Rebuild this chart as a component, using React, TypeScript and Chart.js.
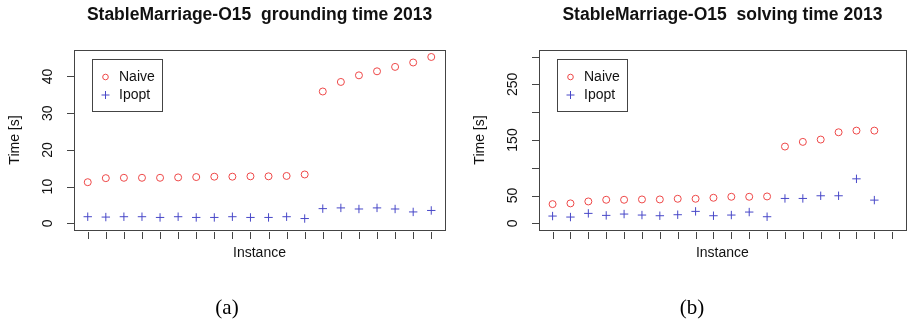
import React, { useEffect, useRef } from "react";
import { Chart, registerables } from "chart.js";

Chart.register(...registerables);

const instancesA = [1, 2, 3, 4, 5, 6, 7, 8, 9, 10, 11, 12, 13, 14, 15, 16, 17, 18, 19, 20];
const groundingNaive = [11.2, 12.3, 12.4, 12.4, 12.4, 12.5, 12.6, 12.7, 12.7, 12.8, 12.8, 12.9, 13.3, 35.9, 38.5, 40.3, 41.4, 42.6, 43.8, 45.3];
const groundingIpopt = [1.8, 1.7, 1.8, 1.8, 1.6, 1.8, 1.6, 1.6, 1.8, 1.6, 1.6, 1.8, 1.3, 4.0, 4.2, 3.9, 4.2, 3.9, 3.1, 3.5];

const instancesB = [1, 2, 3, 4, 5, 6, 7, 8, 9, 10, 11, 12, 13, 14, 15, 16, 17, 18, 19];
const solvingNaive = [34.6, 35.9, 39.4, 42.4, 42.4, 43.0, 43.0, 44.2, 44.2, 46.0, 47.8, 47.8, 48.4, 138.2, 146.6, 150.8, 163.9, 166.9, 166.9];
const solvingIpopt = [13.1, 11.3, 17.9, 14.3, 16.7, 14.9, 13.7, 15.5, 21.5, 13.7, 14.9, 20.3, 11.9, 44.8, 44.8, 49.6, 49.6, 80.1, 41.8];

const xTicks = [1, 2, 3, 4, 5, 6, 7, 8, 9, 10, 11, 12, 13, 14, 15, 16, 17, 18, 19, 20];
const yTicksA = [0, 10, 20, 30, 40];
const yTickLabelsA = ["0", "10", "20", "30", "40"];
const yTicksB = [0, 50, 100, 150, 200, 250, 300];
const yTickLabelsB = ["0", "50", "", "150", "", "250", ""];

const seriesNames = ["Naive", "Ipopt"];
const titleA = "StableMarriage-O15  grounding time 2013";
const titleB = "StableMarriage-O15  solving time 2013";
const xTitle = "Instance";
const yTitle = "Time [s]";

const RED = "rgb(238,72,72)";
const BLUE = "rgb(72,72,200)";
const SANS = '"Liberation Sans", Arial, sans-serif';

type PanelProps = {
  xs: number[];
  naive: number[];
  ipopt: number[];
  yMin: number;
  yMax: number;
  yTicks: number[];
  yTickLabels: string[];
  title: string;
  width: number;
  padLeft: number;
  padRight: number;
};

function makeDecor(p: PanelProps) {
  return {
    id: "rdecor",
    afterDraw(chart: any) {
      const ctx = chart.ctx as CanvasRenderingContext2D;
      const a = chart.chartArea;
      const xs = chart.scales.x;
      const ys = chart.scales.y;
      ctx.save();
      // box
      ctx.strokeStyle = "#444";
      ctx.lineWidth = 1;
      ctx.strokeRect(Math.round(a.left) + 0.5, Math.round(a.top) + 0.5, Math.round(a.right - a.left), Math.round(a.bottom - a.top));
      // x ticks
      ctx.beginPath();
      for (const t of xTicks) {
        const px = Math.round(xs.getPixelForValue(t)) + 0.5;
        ctx.moveTo(px, a.bottom + 2);
        ctx.lineTo(px, a.bottom + 9);
      }
      ctx.stroke();
      // y ticks
      ctx.beginPath();
      for (const t of p.yTicks) {
        const py = Math.round(ys.getPixelForValue(t)) + 0.5;
        ctx.moveTo(a.left - 7, py);
        ctx.lineTo(a.left, py);
      }
      ctx.stroke();
      // y tick labels (rotated)
      ctx.fillStyle = "#111";
      ctx.font = `14px ${SANS}`;
      ctx.textAlign = "center";
      ctx.textBaseline = "middle";
      p.yTicks.forEach((t, i) => {
        const lbl = p.yTickLabels[i];
        if (!lbl) return;
        const py = ys.getPixelForValue(t);
        ctx.save();
        ctx.translate(a.left - 26, py);
        ctx.rotate(-Math.PI / 2);
        ctx.fillText(lbl, 0, 0);
        ctx.restore();
      });
      // axis titles
      const cx = (a.left + a.right) / 2;
      ctx.fillText(xTitle, cx, a.bottom + 23);
      ctx.save();
      ctx.translate(p.padLeft - 59, (a.top + a.bottom) / 2);
      ctx.rotate(-Math.PI / 2);
      ctx.fillText(yTitle, 0, 0);
      ctx.restore();
      // title
      ctx.font = `bold 17.5px ${SANS}`;
      ctx.fillText(p.title, cx, 15);
      // legend
      const lx = a.left + 18;
      const ly = a.top + 9;
      ctx.strokeStyle = "#444";
      ctx.strokeRect(Math.round(lx) + 0.5, Math.round(ly) + 0.5, 70, 52);
      ctx.font = `14px ${SANS}`;
      ctx.textAlign = "left";
      ctx.fillStyle = "#111";
      ctx.fillText(seriesNames[0], lx + 27, ly + 18);
      ctx.fillText(seriesNames[1], lx + 27, ly + 36);
      ctx.lineWidth = 1;
      ctx.strokeStyle = RED;
      ctx.beginPath();
      ctx.arc(lx + 13.5, ly + 18, 2.8, 0, Math.PI * 2);
      ctx.stroke();
      ctx.strokeStyle = BLUE;
      ctx.beginPath();
      ctx.moveTo(lx + 9.5, ly + 36);
      ctx.lineTo(lx + 17.5, ly + 36);
      ctx.moveTo(lx + 13.5, ly + 32);
      ctx.lineTo(lx + 13.5, ly + 40);
      ctx.stroke();
      ctx.restore();
    },
  };
}

function Panel(p: PanelProps) {
  const ref = useRef<HTMLCanvasElement | null>(null);
  useEffect(() => {
    if (!ref.current) return;
    const chart = new Chart(ref.current, {
      type: "scatter",
      data: {
        datasets: [
          {
            label: seriesNames[0],
            data: p.xs.map((x, i) => ({ x, y: p.naive[i] })),
            pointStyle: "circle",
            pointRadius: 3.5,
            borderColor: RED,
            backgroundColor: "rgba(0,0,0,0)",
            borderWidth: 1,
          },
          {
            label: seriesNames[1],
            data: p.xs.map((x, i) => ({ x, y: p.ipopt[i] })),
            pointStyle: "cross",
            pointRadius: 4.2,
            borderColor: BLUE,
            backgroundColor: BLUE,
            borderWidth: 1,
          },
        ],
      },
      options: {
        animation: false,
        responsive: false,
        devicePixelRatio: 1,
        layout: { padding: { left: p.padLeft, right: p.padRight, top: 50, bottom: 90 } },
        scales: {
          x: { type: "linear", min: 0.24, max: 20.76, display: false },
          y: { type: "linear", min: p.yMin, max: p.yMax, display: false },
        },
        plugins: {
          legend: { display: false },
          title: { display: false },
          tooltip: { enabled: false },
        },
      },
      plugins: [makeDecor(p)],
    });
    return () => chart.destroy();
  }, []);
  return <canvas ref={ref} width={p.width} height={320} style={{ display: "block" }} />;
}

export default function App() {
  return (
    <div style={{ position: "absolute", left: 0, top: 0, width: 911, height: 320, background: "#fff" }}>
      <div style={{ position: "absolute", left: 0, top: 0 }}>
        <Panel xs={instancesA} naive={groundingNaive} ipopt={groundingIpopt} yMin={-1.82} yMax={47.2}
          yTicks={yTicksA} yTickLabels={yTickLabelsA} title={titleA} width={455} padLeft={74} padRight={10} />
      </div>
      <div style={{ position: "absolute", left: 455, top: 0 }}>
        <Panel xs={instancesB} naive={solvingNaive} ipopt={solvingIpopt} yMin={-12} yMax={312}
          yTicks={yTicksB} yTickLabels={yTickLabelsB} title={titleB} width={456} padLeft={84} padRight={1} />
      </div>
      <div style={{ position: "absolute", left: 207, top: 293, width: 40, textAlign: "center", fontFamily: '"Liberation Serif", "Times New Roman", serif', fontSize: 21, lineHeight: "28px" }}>(a)</div>
      <div style={{ position: "absolute", left: 672, top: 293, width: 40, textAlign: "center", fontFamily: '"Liberation Serif", "Times New Roman", serif', fontSize: 21, lineHeight: "28px" }}>(b)</div>
    </div>
  );
}
